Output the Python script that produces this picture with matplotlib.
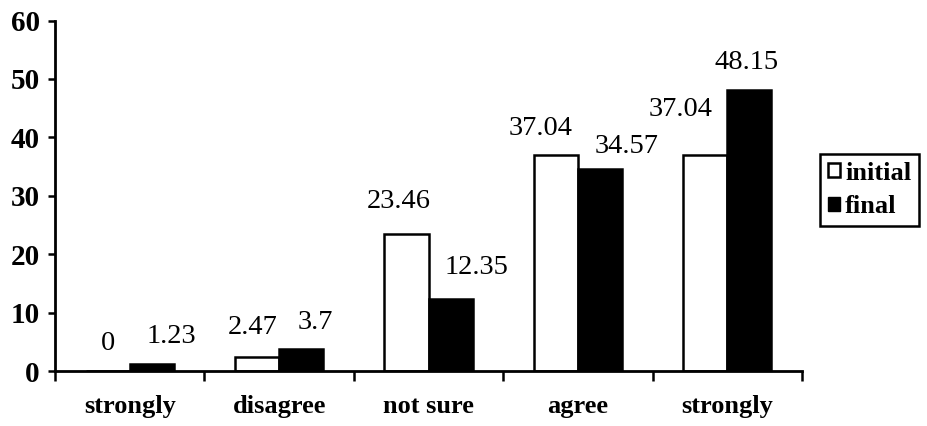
import matplotlib
matplotlib.use("Agg")
from matplotlib import pyplot as plt
from matplotlib.patches import Patch
import numpy as np

plt.rcParams['font.family'] = ['Liberation Serif', 'DejaVu Serif']

# 类别与两组数值
categories = ["strongly", "disagree", "not sure", "agree", "strongly"]
initial = [0, 2.47, 23.46, 37.04, 37.04]
final = [1.23, 3.7, 12.35, 34.57, 48.15]

# 数值标签的偏移(像素)，手动错开避免重叠
initial_offsets = [(0, 28), (-4, 29), (-8, 32), (-15, 26), (-25, 45)]
final_offsets = [(20, 27), (14, 27), (26, 31), (27, 23), (-3, 27)]

fig = plt.figure(figsize=(9.27, 4.26), dpi=100)
ax = fig.add_axes([55 / 927, 55 / 426, 747 / 927, 350.5 / 426])

x = np.arange(len(categories))
w = 0.295
ax.bar(x - w / 2, initial, w, color="white", edgecolor="black", linewidth=1.8)
ax.bar(x + w / 2, final, w, color="black", edgecolor="black", linewidth=1.8)

for i in range(len(categories)):
    ax.annotate("{:g}".format(initial[i]), (x[i] - w / 2, initial[i]),
                xytext=initial_offsets[i], textcoords="offset pixels",
                ha="center", va="center", fontsize=20.5)
    ax.annotate("{:g}".format(final[i]), (x[i] + w / 2, final[i]),
                xytext=final_offsets[i], textcoords="offset pixels",
                ha="center", va="center", fontsize=20.5)

ax.set_xlim(-0.5, len(categories) - 0.5)
ax.set_ylim(0, 60)
ax.set_yticks(range(0, 61, 10))

# 刻度线在类别之间，文字在类别中心
ax.set_xticks(np.arange(-0.5, len(categories), 1.0))
ax.set_xticklabels([])
ax.set_xticks(x, minor=True)
ax.set_xticklabels(categories, minor=True, fontsize=19, fontweight="bold")
ax.tick_params(axis="x", which="major", direction="out", length=7, width=1.8)
ax.tick_params(axis="x", which="minor", length=0, pad=17)
ax.tick_params(axis="y", direction="out", length=5, width=1.8, pad=6, labelsize=21)
for lab in ax.get_yticklabels():
    lab.set_fontweight("bold")

ax.spines["top"].set_visible(False)
ax.spines["right"].set_visible(False)
ax.spines["left"].set_linewidth(2)
ax.spines["bottom"].set_linewidth(2)

handles = [Patch(facecolor="white", edgecolor="black", linewidth=1.8, label="initial"),
           Patch(facecolor="black", edgecolor="black", label="final")]
leg = fig.legend(handles=handles, loc="center left", bbox_to_anchor=(820 / 927, 1 - 190 / 426),
                 fancybox=False, edgecolor="black", framealpha=1, borderpad=0.3,
                 handlelength=0.45, handleheight=0.45, handletextpad=0.2, labelspacing=0.4,
                 borderaxespad=0, prop={"weight": "bold", "size": 19})
leg.get_frame().set_linewidth(1.8)

plt.savefig("out.png", dpi=100)
